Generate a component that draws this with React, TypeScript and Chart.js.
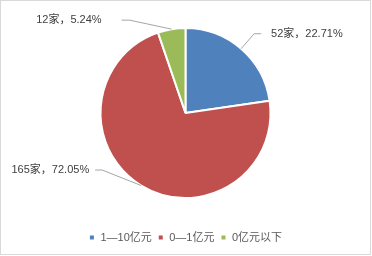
import React, { useEffect, useRef } from "react";
import { Chart, registerables } from "chart.js";

Chart.register(...registerables);

const categories = ["1—10亿元", "0—1亿元", "0亿元以下"];
const counts = [52, 165, 12];
const percents = ["22.71%", "72.05%", "5.24%"];
const colors = ["#4F81BD", "#C0504D", "#9BBB59"];

// leader-line layout: elbow offset from slice edge, horizontal length, text gap, side
const labelLayout = [
  { dx: 13, dy: -15, h: 7, gap: 10, side: 1 },
  { dx: -39, dy: -15.5, h: 7, gap: 6, side: -1 },
  { dx: -42, dy: -9, h: 8, gap: 20, side: -1 },
];

const FONT = '"Liberation Sans", "Noto Sans CJK SC", sans-serif';

const framePlugin = {
  id: "frame",
  beforeDraw(chart: any) {
    const ctx = chart.ctx;
    ctx.save();
    ctx.fillStyle = "#ffffff";
    ctx.fillRect(0, 0, chart.width, chart.height);
    ctx.strokeStyle = "#D9D9D9";
    ctx.lineWidth = 1;
    ctx.strokeRect(0.5, 0.5, 370, 254);
    ctx.restore();
  },
};

const labelPlugin = {
  id: "pieLabels",
  afterDatasetsDraw(chart: any) {
    const ctx = chart.ctx;
    const meta = chart.getDatasetMeta(0);
    ctx.save();
    ctx.font = `11px ${FONT}`;
    ctx.textBaseline = "middle";
    meta.data.forEach((arc: any, i: number) => {
      const { x, y, startAngle, endAngle, outerRadius } = arc.getProps(
        ["x", "y", "startAngle", "endAngle", "outerRadius"],
        true
      );
      const mid = (startAngle + endAngle) / 2;
      const ex = x + Math.cos(mid) * outerRadius;
      const ey = y + Math.sin(mid) * outerRadius;
      const L = labelLayout[i];
      const bx = ex + L.dx;
      const by = ey + L.dy;
      const hx = bx + L.side * L.h;
      ctx.strokeStyle = "#A6A6A6";
      ctx.lineWidth = 1;
      ctx.beginPath();
      ctx.moveTo(ex, ey);
      ctx.lineTo(bx, by);
      ctx.lineTo(hx, by);
      ctx.stroke();
      const text = `${counts[i]}家，${percents[i]}`;
      ctx.fillStyle = "#404040";
      ctx.textAlign = L.side > 0 ? "left" : "right";
      ctx.fillText(text, hx + L.side * L.gap, by);
    });
    ctx.restore();
  },
};

export default function App() {
  const ref = useRef<HTMLCanvasElement | null>(null);
  useEffect(() => {
    if (!ref.current) return;
    const chart = new Chart(ref.current, {
      type: "pie",
      data: {
        labels: categories,
        datasets: [
          {
            data: counts,
            backgroundColor: colors,
            borderColor: "#ffffff",
            borderWidth: 2,
            radius: 85,
          },
        ],
      },
      options: {
        animation: false,
        responsive: false,
        maintainAspectRatio: false,
        layout: { padding: { left: 0, right: 1, top: 0, bottom: 3 } },
        plugins: {
          tooltip: { enabled: false },
          legend: {
            position: "bottom",
            labels: {
              boxWidth: 6,
              boxHeight: 6,
              padding: 6,
              color: "#595959",
              font: { size: 11, family: FONT },
            },
          },
        },
      },
      plugins: [framePlugin, labelPlugin],
    });
    return () => chart.destroy();
  }, []);
  return (
    <div style={{ position: "fixed", left: 0, top: 0, width: 372, height: 256 }}>
      <canvas ref={ref} width={372} height={256} style={{ width: 372, height: 256 }} />
    </div>
  );
}
